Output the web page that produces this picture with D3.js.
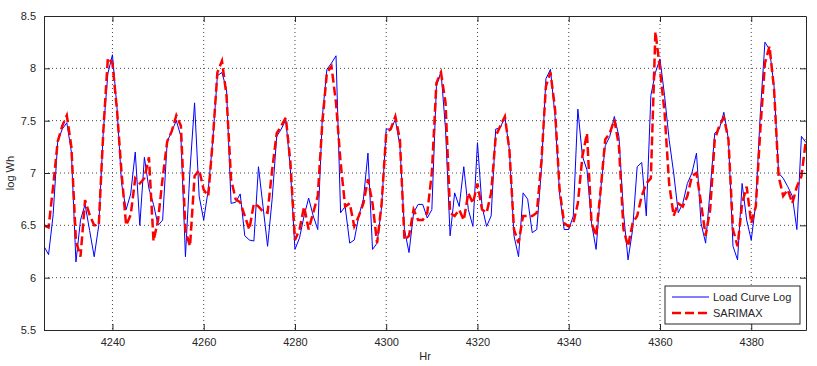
<!DOCTYPE html>
<html>
<head>
<meta charset="utf-8">
<script src="https://cdn.jsdelivr.net/npm/d3@7"></script>
<style>
  body { margin: 0; background: #fff; }
  svg text { font-family: "Liberation Sans", Arial, sans-serif; fill: #262626; }
</style>
</head>
<body>
<svg id="chart" width="817" height="366"></svg>
<script>
// hours shown on the x axis
const hourStart = 4225;
const hourEnd = 4392;

const xTicks = [4240, 4260, 4280, 4300, 4320, 4340, 4360, 4380];
const yTicks = [5.5, 6, 6.5, 7, 7.5, 8, 8.5];

// observed load (log Wh), one value per hour from 4225
const loadLog = [
  6.30, 6.22, 6.60, 7.30, 7.42, 7.48, 7.20, 6.15, 6.55, 6.70,
  6.45, 6.20, 6.50, 7.40, 7.95, 8.13, 7.62, 6.90, 6.65, 6.80,
  7.20, 6.50, 7.15, 6.85, 6.70, 6.50, 6.55, 7.30, 7.40, 7.50,
  7.35, 6.20, 7.03, 7.67, 6.78, 6.55, 6.84, 7.32, 7.93, 7.96,
  7.80, 6.71, 6.72, 6.80, 6.40, 6.36, 6.35, 7.06, 6.68, 6.30,
  6.75, 7.35, 7.42, 7.51, 7.03, 6.27, 6.38, 6.59, 6.76, 6.59,
  6.46, 7.54, 7.99, 8.05, 8.12, 6.62, 6.68, 6.33, 6.36, 6.59,
  6.75, 7.19, 6.27, 6.33, 6.68, 7.42, 7.42, 7.51, 7.26, 6.46,
  6.24, 6.62, 6.70, 6.70, 6.57, 6.65, 7.83, 7.97, 7.42, 6.40,
  6.81, 6.68, 7.06, 6.65, 6.49, 7.29, 6.68, 6.49, 6.59, 7.42,
  7.43, 7.54, 7.22, 6.40, 6.20, 6.81, 6.75, 6.43, 6.46, 7.03,
  7.90, 7.99, 7.54, 6.80, 6.46, 6.46, 6.59, 7.61, 7.16, 7.03,
  6.52, 6.27, 6.84, 7.26, 7.35, 7.54, 7.35, 6.62, 6.17, 6.46,
  7.06, 7.10, 6.59, 7.74, 7.96, 8.09, 7.74, 7.32, 7.00, 6.62,
  6.71, 6.90, 7.00, 7.19, 6.52, 6.33, 6.84, 7.38, 7.42, 7.58,
  7.32, 6.30, 6.17, 6.90, 6.55, 6.36, 6.71, 7.58, 8.25, 8.18,
  7.83, 7.00, 6.95, 6.87, 6.78, 6.46, 7.35, 7.29
];

// SARIMAX fit, same hours
const sarimax = [
  6.50, 6.48, 6.87, 7.30, 7.45, 7.55, 7.25, 6.35, 6.20, 6.74,
  6.60, 6.50, 6.50, 7.40, 8.10, 8.05, 7.60, 7.00, 6.50, 6.60,
  6.95, 6.90, 6.95, 7.15, 6.35, 6.55, 6.95, 7.30, 7.40, 7.55,
  7.45, 6.45, 6.30, 6.97, 7.03, 6.84, 6.78, 7.32, 7.96, 8.07,
  7.74, 6.94, 6.75, 6.72, 6.59, 6.46, 6.71, 6.68, 6.63, 6.62,
  7.03, 7.38, 7.45, 7.53, 7.10, 6.36, 6.46, 6.68, 6.46, 6.62,
  6.78, 7.48, 7.96, 8.02, 7.67, 7.10, 6.68, 6.71, 6.49, 6.59,
  6.71, 6.94, 6.71, 6.33, 6.71, 7.38, 7.42, 7.54, 7.32, 6.36,
  6.40, 6.65, 6.55, 6.55, 6.62, 7.00, 7.86, 7.96, 7.67, 6.62,
  6.59, 6.65, 6.55, 6.81, 6.71, 6.90, 6.65, 6.62, 6.81, 7.35,
  7.45, 7.54, 7.22, 6.46, 6.33, 6.59, 6.59, 6.59, 6.62, 7.10,
  7.83, 7.96, 7.61, 6.84, 6.52, 6.49, 6.52, 6.71, 7.16, 7.38,
  6.52, 6.40, 6.84, 7.32, 7.38, 7.51, 7.26, 6.46, 6.30, 6.52,
  6.59, 6.78, 6.90, 6.95, 8.35, 7.99, 7.58, 6.90, 6.59, 6.71,
  6.68, 6.78, 6.97, 7.00, 6.71, 6.40, 6.65, 7.32, 7.45, 7.53,
  7.32, 6.46, 6.30, 6.71, 6.87, 6.52, 6.68, 7.42, 8.05, 8.21,
  7.80, 6.97, 6.78, 6.84, 6.71, 6.87, 6.97, 7.32
];

const seriesNames = ["Load Curve Log", "SARIMAX"];

const margin = { left: 44, right: 11, top: 16, bottom: 36 };
const svg = d3.select("#chart");
const width = +svg.attr("width") - margin.left - margin.right;
const height = +svg.attr("height") - margin.top - margin.bottom;

const x = d3.scaleLinear().domain([hourStart, hourEnd]).range([0, width]);
const y = d3.scaleLinear().domain([5.5, 8.5]).range([height, 0]);

const g = svg.append("g").attr("transform", `translate(${margin.left},${margin.top})`);

// dotted grid
g.append("g")
  .selectAll("line")
  .data(xTicks)
  .join("line")
  .attr("x1", d => x(d)).attr("x2", d => x(d))
  .attr("y1", 0).attr("y2", height)
  .attr("stroke", "#444").attr("stroke-dasharray", "1,3");

g.append("g")
  .selectAll("line")
  .data(yTicks.slice(1, -1))
  .join("line")
  .attr("x1", 0).attr("x2", width)
  .attr("y1", d => y(d)).attr("y2", d => y(d))
  .attr("stroke", "#444").attr("stroke-dasharray", "1,3");

// series
const toPoints = vals => vals.map((v, i) => [hourStart + i, v]);
const line = d3.line().x(d => x(d[0])).y(d => y(d[1]));

svg.append("clipPath").attr("id", "plotclip")
  .append("rect").attr("width", width).attr("height", height);

g.append("path")
  .datum(toPoints(loadLog))
  .attr("d", line)
  .attr("fill", "none")
  .attr("stroke", "#0000ff")
  .attr("stroke-width", 1)
  .attr("clip-path", "url(#plotclip)");

g.append("path")
  .datum(toPoints(sarimax))
  .attr("d", line)
  .attr("fill", "none")
  .attr("stroke", "#ff0000")
  .attr("stroke-width", 2.5)
  .attr("stroke-dasharray", "9,4")
  .attr("clip-path", "url(#plotclip)");

// axes, inward ticks on all four sides
const xAxis = d3.axisBottom(x).tickValues(xTicks).tickSizeInner(-6).tickSizeOuter(0).tickPadding(8)
  .tickFormat(d3.format("d"));
const yAxis = d3.axisLeft(y).tickValues(yTicks).tickSizeInner(-6).tickSizeOuter(0).tickPadding(8)
  .tickFormat(d3.format("~g"));

const xa = g.append("g").attr("transform", `translate(0,${height})`).call(xAxis);
const ya = g.append("g").call(yAxis);
const xt = g.append("g").call(d3.axisTop(x).tickValues(xTicks).tickSizeInner(-6).tickSizeOuter(0).tickFormat(""));
const yr = g.append("g").attr("transform", `translate(${width},0)`)
  .call(d3.axisRight(y).tickValues(yTicks).tickSizeInner(-6).tickSizeOuter(0).tickFormat(""));

[xa, ya, xt, yr].forEach(a => {
  a.select(".domain").attr("stroke", "#262626");
  a.selectAll(".tick line").attr("stroke", "#262626");
  a.selectAll("text").style("font-size", "11px").attr("fill", "#262626");
});

svg.append("text")
  .attr("x", margin.left + width / 2)
  .attr("y", 360)
  .attr("text-anchor", "middle")
  .style("font-size", "11px")
  .text("Hr");

svg.append("text")
  .attr("transform", `translate(14,${margin.top + height / 2}) rotate(-90)`)
  .attr("text-anchor", "middle")
  .style("font-size", "11px")
  .text("log Wh");

// legend
const legend = g.append("g").attr("transform", `translate(${width - 141},${height - 44})`);
legend.append("rect")
  .attr("width", 135).attr("height", 38)
  .attr("fill", "#fff").attr("stroke", "#262626");

const legendStyles = [
  { color: "#0000ff", w: 1, dash: null },
  { color: "#ff0000", w: 2.5, dash: "9,4" }
];
seriesNames.forEach((name, i) => {
  const row = legend.append("g").attr("transform", `translate(0,${11 + i * 16})`);
  row.append("line")
    .attr("x1", 7).attr("x2", 44)
    .attr("stroke", legendStyles[i].color)
    .attr("stroke-width", legendStyles[i].w)
    .attr("stroke-dasharray", legendStyles[i].dash);
  row.append("text")
    .attr("x", 48).attr("dy", "0.35em")
    .style("font-size", "11px")
    .text(name);
});
</script>
</body>
</html>
